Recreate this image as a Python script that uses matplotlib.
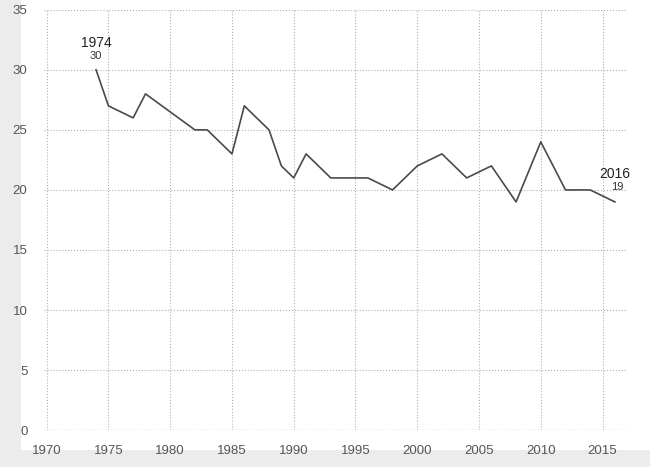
import matplotlib.pyplot as plt
from matplotlib.patches import Rectangle

years  = [1974, 1975, 1977, 1978, 1982, 1983, 1985, 1986, 1988, 1989, 1990,
          1991, 1993, 1996, 1998, 2000, 2002, 2004, 2006, 2008, 2010, 2012,
          2014, 2016]
values = [30, 27, 26, 28, 25, 25, 23, 27, 25, 22, 21,
          23, 21, 21, 20, 22, 23, 21, 22, 19, 24, 20,
          20, 19]

xticks = [1970, 1975, 1980, 1985, 1990, 1995, 2000, 2005, 2010, 2015]
yticks = [0, 5, 10, 15, 20, 25, 30, 35]

plt.rcParams['font.family'] = ['Liberation Sans', 'DejaVu Sans']
plt.rcParams['hatch.color'] = '#a8a8a8'
plt.rcParams['hatch.linewidth'] = 0.7

fig = plt.figure(figsize=(6.5, 4.67), dpi=100)
fig.patch.set_facecolor('#eeeeee')
# grainy scan border, white page on top
fig.add_artist(Rectangle((0, 0), 1, 1, transform=fig.transFigure,
                         facecolor='#ececec', hatch='.....', edgecolor='none', zorder=-3))
fig.add_artist(Rectangle((0.032, 0.036), 0.968, 0.964, transform=fig.transFigure,
                         facecolor='white', edgecolor='none', zorder=-2))

ax = fig.add_axes([0.068, 0.079, 0.897, 0.9])
ax.set_facecolor('none')

ax.plot(years, values, color='#4a4a4a', linewidth=1.2)

ax.set_xlim(1969.8, 2017)
ax.set_ylim(0, 35)
ax.set_xticks(xticks)
ax.set_yticks(yticks)
ax.grid(which='major', color='#b0b0b0', linestyle=':', linewidth=0.8)

for s in ax.spines.values():
    s.set_visible(False)
ax.axhline(0, color='#a0a0a0', linestyle=':', linewidth=0.9)
ax.tick_params(length=0, labelsize=9.5, labelcolor='#555555')
ax.tick_params(axis='x', pad=11)
ax.tick_params(axis='y', pad=12)

# labels at first and last points
ax.annotate(str(years[0]), (years[0], values[0]), xytext=(0, 19.5), textcoords='offset points',
            ha='center', va='center', fontsize=10, color='#222222')
ax.annotate(str(values[0]), (years[0], values[0]), xytext=(0, 10), textcoords='offset points',
            ha='center', va='center', fontsize=8, color='#333333')
ax.annotate(str(years[-1]), (years[-1], values[-1]), xytext=(0, 20), textcoords='offset points',
            ha='center', va='center', fontsize=10, color='#222222')
ax.annotate(str(values[-1]), (years[-1], values[-1]), xytext=(2, 11), textcoords='offset points',
            ha='center', va='center', fontsize=8, color='#333333')

fig.savefig('out.png', dpi=100)
